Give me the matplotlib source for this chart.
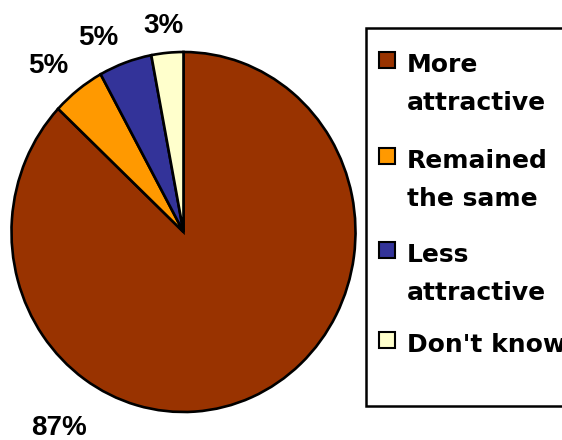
import matplotlib
matplotlib.use("Agg")
import matplotlib.pyplot as plt
from matplotlib.patches import Rectangle

categories = ["More\nattractive", "Remained\nthe same", "Less\nattractive", "Don't know"]
values = [87, 5, 5, 3]
pct_labels = ["87%", "5%", "5%", "3%"]
colors = ["#993300", "#FF9900", "#333399", "#FFFFCC"]

W, H = 562, 440
fig = plt.figure(figsize=(W / 100, H / 100), dpi=100)

def fx(px):
    return px / W

def fy(py):
    return 1 - py / H

# pie axes (pixel bounding box of the ellipse)
left, top, right, bottom = 11.5, 52, 355.5, 412
ax = fig.add_axes([fx(left), fy(bottom), fx(right - left), (bottom - top) / H])
ax.pie(values, colors=colors, startangle=90, counterclock=False,
       wedgeprops=dict(edgecolor="black", linewidth=1.9))
ax.set_aspect("auto")
ax.set_xlim(-1, 1)
ax.set_ylim(-1, 1)
ax.axis("off")

# percentage labels (pixel positions: center x, baseline y)
label_pos = [(59.5, 435), (48, 73), (98, 45), (163, 33)]
for txt, (px, py) in zip(pct_labels, label_pos):
    fig.text(fx(px), fy(py), txt, ha="center", va="baseline",
             fontsize=20, fontweight="bold", family="Liberation Sans")

# legend frame
frame = Rectangle((fx(366), fy(406)), fx(600 - 366), (406 - 28) / H,
                  transform=fig.transFigure, facecolor="white",
                  edgecolor="black", linewidth=1.8, zorder=1)
fig.patches.append(frame)

item_baselines = [72, 168, 262, 352]
line_gap = 38
for cat, col, base in zip(categories, colors, item_baselines):
    sq = Rectangle((fx(379), fy(base - 4)), fx(16), 16 / H,
                   transform=fig.transFigure, facecolor=col,
                   edgecolor="black", linewidth=1.5, zorder=2)
    fig.patches.append(sq)
    for i, line in enumerate(cat.split("\n")):
        fig.text(fx(407), fy(base + i * line_gap), line, ha="left", va="baseline",
                 fontsize=18, fontweight="bold", family="DejaVu Sans", zorder=3)

fig.savefig("out.png", dpi=100)
